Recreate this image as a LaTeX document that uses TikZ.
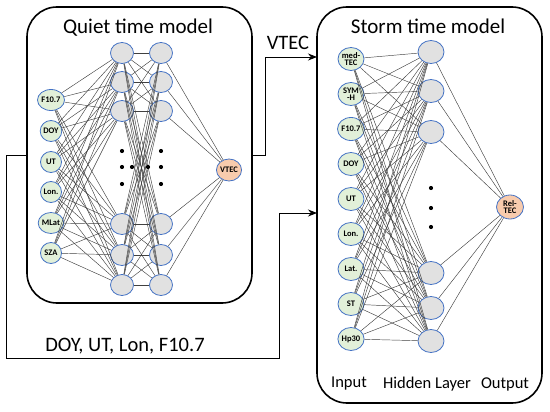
\documentclass[tikz,border=0pt]{standalone}
\usepackage{fontspec}
\setmainfont{Carlito}
\usetikzlibrary{shapes.geometric, arrows, arrows.meta, positioning}
\definecolor{inputgreen}{HTML}{E2F0D9}
\definecolor{nodeblue}{HTML}{4472C4}
\definecolor{hiddengrey}{HTML}{E1E1E1}
\definecolor{outorange}{HTML}{F8CBAD}
\tikzstyle{inputnode} = [ellipse, draw=nodeblue, line width=0.8pt, fill=inputgreen, inner sep=0pt, align=center, font=\fontsize{8.5}{7.5}\selectfont\bfseries]
\tikzstyle{hiddennode} = [ellipse, draw=nodeblue, line width=0.8pt, fill=hiddengrey, inner sep=0pt]
\tikzstyle{outputnode} = [ellipse, draw=nodeblue, line width=0.8pt, fill=outorange, inner sep=0pt, align=center, font=\fontsize{8.5}{7.5}\selectfont\bfseries]
\tikzstyle{modelbox} = [rectangle, rounded corners=30pt, draw=black, line width=1.6pt]
\tikzstyle{link} = [black!75, line width=0.45pt]
\tikzstyle{arrow} = [line width=0.9pt,-{Stealth[length=9pt, width=7pt]}]

\begin{document}
\begin{tikzpicture}[
  x=1pt, y=-1pt,
  every node/.style={font=\fontsize{20.5}{20}\selectfont},
  inputnode/.append style={minimum width=21pt, minimum height=21pt},
  hiddennode/.append style={minimum width=23pt, minimum height=21pt}
]
\useasboundingbox (0,0) rectangle (550,412);

\node (quiet) [modelbox, minimum width=225pt, minimum height=296pt] at (139.5,155) {};
\node (storm) [modelbox, minimum width=225pt, minimum height=396pt] at (429.5,205) {};

\node (quiettitle) [font=\fontsize{21}{21}\selectfont] at (138,28) {Quiet time model};
\node (stormtitle) [font=\fontsize{21}{21}\selectfont] at (428,26) {Storm time model};

% quiet time model
\node (qin1) [inputnode] at (51,100) {F10.7};
\node (qin2) [inputnode] at (51,131) {DOY};
\node (qin3) [inputnode] at (51,162) {UT};
\node (qin4) [inputnode] at (51,192) {Lon.};
\node (qin5) [inputnode] at (51,223) {MLat};
\node (qin6) [inputnode] at (51,253) {SZA};

\node (qa1) [hiddennode] at (122,53) {};
\node (qa2) [hiddennode] at (122,82) {};
\node (qa3) [hiddennode] at (122,111) {};
\node (qa4) [hiddennode] at (122,224) {};
\node (qa5) [hiddennode] at (122,255) {};
\node (qa6) [hiddennode] at (122,285) {};

\node (qb1) [hiddennode] at (161,53) {};
\node (qb2) [hiddennode] at (161,82) {};
\node (qb3) [hiddennode] at (161,111) {};
\node (qb4) [hiddennode] at (161,224) {};
\node (qb5) [hiddennode] at (161,255) {};
\node (qb6) [hiddennode] at (161,285) {};

\node (qout) [outputnode, minimum width=22pt, minimum height=22pt] at (229,170) {VTEC};

\foreach \i in {1,...,6}
  \foreach \j in {1,...,6} {
    \draw [link] (qin\i) -- (qa\j);
    \draw [link] (qa\i) -- (qb\j);
  }
\foreach \j in {1,...,6}
  \draw [link] (qb\j) -- (qout);

\foreach \y in {151,167,184} {
  \fill (122,\y) circle (2.1);
  \fill (161,\y) circle (2.1);
}
\fill (132,167) circle (2.1);
\fill (148,167) circle (2.1);

% storm time model
\node (sin1) [inputnode, minimum width=26pt, minimum height=23pt] at (351,59) {med-\\TEC};
\node (sin2) [inputnode, minimum width=26pt, minimum height=23pt] at (351,94) {SYM\\-H};
\node (sin3) [inputnode, minimum width=26pt, minimum height=23pt] at (351,129) {F10.7};
\node (sin4) [inputnode, minimum width=26pt, minimum height=23pt] at (351,164) {DOY};
\node (sin5) [inputnode, minimum width=26pt, minimum height=23pt] at (351,199) {UT};
\node (sin6) [inputnode, minimum width=26pt, minimum height=23pt] at (351,234) {Lon.};
\node (sin7) [inputnode, minimum width=26pt, minimum height=23pt] at (351,269) {Lat.};
\node (sin8) [inputnode, minimum width=26pt, minimum height=23pt] at (351,304) {ST};
\node (sin9) [inputnode, minimum width=26pt, minimum height=23pt] at (351,339) {Hp30};

\node (sh1) [hiddennode, minimum width=26pt, minimum height=23pt] at (431,52) {};
\node (sh2) [hiddennode, minimum width=26pt, minimum height=23pt] at (431,91) {};
\node (sh3) [hiddennode, minimum width=26pt, minimum height=23pt] at (431,132) {};
\node (sh4) [hiddennode, minimum width=26pt, minimum height=23pt] at (431,273) {};
\node (sh5) [hiddennode, minimum width=26pt, minimum height=23pt] at (431,308) {};
\node (sh6) [hiddennode, minimum width=26pt, minimum height=23pt] at (431,341) {};

\node (sout) [outputnode, minimum width=27pt, minimum height=24pt] at (510,207) {Rel-\\TEC};

\foreach \i in {1,...,9}
  \foreach \j in {1,...,6}
    \draw [link] (sin\i) -- (sh\j);
\foreach \j in {1,...,6}
  \draw [link] (sh\j) -- (sout);

\foreach \y in {188,208,227}
  \fill (431,\y) circle (2.1);

\node (inlbl) [font=\fontsize{16.5}{16}\selectfont] at (349,384) {Input};
\node (hidlbl) [font=\fontsize{16.5}{16}\selectfont] at (427,384) {Hidden Layer};
\node (outlbl) [font=\fontsize{16.5}{16}\selectfont] at (505,384) {Output};

% connections between the models
\coordinate (vtecin) at (317,57);
\coordinate (drivin) at (317,213);
\draw [arrow] (quiet.east) -- ++(13,0) |- (vtecin);
\draw [arrow] (quiet.west) -- ++(-20,0) |- ++(273,203) |- (drivin);

\node (vteclbl) at (288,43) {VTEC};
\node (drivlbl) at (125,346) {DOY, UT, Lon, F10.7};

\end{tikzpicture}
\end{document}
